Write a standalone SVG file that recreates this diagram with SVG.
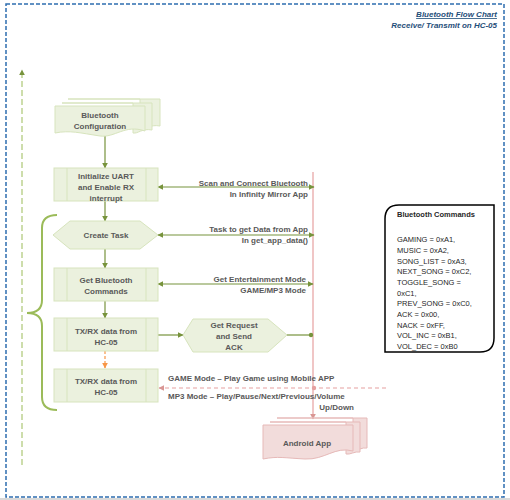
<svg xmlns="http://www.w3.org/2000/svg" width="510" height="500" viewBox="0 0 510 500">
<defs>
<style>
.t{font-family:"Liberation Sans",Arial,sans-serif;font-weight:bold;font-size:8px;fill:#595959}
.c{text-anchor:middle}
.r{text-anchor:end}
.box{fill:#ebf1de;stroke:#d7e4bd;stroke-width:1}
.in{stroke:#d7e4bd;stroke-width:1}
.gl{stroke:#77933c;stroke-width:1.2;fill:none}
.pk{fill:#f2dcdb;stroke:#e6b9b8;stroke-width:1}
.cmd{font-family:"Liberation Sans",Arial,sans-serif;font-size:7.5px;fill:#262626}
</style>
<marker id="ga" viewBox="0 0 10 10" refX="9" refY="5" markerWidth="6" markerHeight="6" markerUnits="userSpaceOnUse" orient="auto-start-reverse"><path d="M0,0 L10,5 L0,10 Z" fill="#77933c"/></marker>
<marker id="ra" viewBox="0 0 10 10" refX="9" refY="5" markerWidth="6" markerHeight="6" markerUnits="userSpaceOnUse" orient="auto"><path d="M0,0 L10,5 L0,10 Z" fill="#d99694"/></marker>
<marker id="oa" viewBox="0 0 10 10" refX="9" refY="5" markerWidth="6" markerHeight="6" markerUnits="userSpaceOnUse" orient="auto"><path d="M0,0 L10,5 L0,10 Z" fill="#f79646"/></marker>
</defs>
<rect x="0" y="0" width="510" height="500" fill="#ffffff"/>
<rect x="0" y="498" width="510" height="2" fill="#d9d9d9"/>
<rect id="frame" x="6" y="4" width="498" height="493" fill="none" stroke="#2e6db0" stroke-width="1.5" stroke-dasharray="4,2"/>
<g id="title">
<text x="497" y="17" class="t r" style="fill:#1f4e79;font-style:italic;text-decoration:underline">Bluetooth Flow Chart</text>
<text x="497" y="28" class="t r" style="fill:#1f4e79;font-style:italic">Receive/ Transmit on HC-05</text>
</g>
<g id="connectors">
<line x1="22" y1="465" x2="22" y2="70" stroke="#9bbb59" stroke-width="1" stroke-dasharray="6,3" marker-end="url(#ga)"/>
<line x1="105" y1="136" x2="105" y2="168" class="gl" marker-end="url(#ga)"/>
<line x1="105" y1="201" x2="105" y2="221" class="gl" marker-end="url(#ga)"/>
<line x1="105" y1="249" x2="105" y2="268" class="gl" marker-end="url(#ga)"/>
<line x1="105" y1="301" x2="105" y2="318" class="gl" marker-end="url(#ga)"/>
<line x1="105" y1="351" x2="105" y2="368" stroke="#f79646" stroke-width="1.2" stroke-dasharray="3,2" marker-end="url(#oa)"/>
<line x1="313" y1="172" x2="313" y2="419" stroke="#e6a0a0" stroke-width="1.2" marker-end="url(#ra)"/>
<line x1="158" y1="187" x2="314" y2="187" class="gl" marker-start="url(#ga)" marker-end="url(#ga)"/>
<line x1="158" y1="235" x2="314" y2="235" class="gl" marker-start="url(#ga)" marker-end="url(#ga)"/>
<line x1="158" y1="284" x2="313" y2="284" class="gl" marker-start="url(#ga)" marker-end="url(#ga)"/>
<line x1="158" y1="335" x2="183" y2="335" class="gl" marker-end="url(#ga)"/>
<line x1="287" y1="335" x2="311" y2="335" class="gl"/>
<circle cx="311" cy="335" r="2.2" fill="#77933c"/>
<line x1="386" y1="388" x2="159" y2="388" stroke="#e6a0a0" stroke-width="1.2" stroke-dasharray="4,3" marker-end="url(#ra)"/>
<circle cx="314" cy="388" r="2.2" fill="#e6a0a0"/>
<path d="M57,215 Q42,215 42,228 V300 Q42,313 27,313 Q42,313 42,326 V397 Q42,410 57,410" fill="none" stroke="#9bbb59" stroke-width="2"/>
<text x="308" y="186" class="t r">Scan and Connect Bluetooth</text>
<text x="308" y="197" class="t r">In Infinity Mirror App</text>
<text x="308" y="232" class="t r">Task to get Data from App</text>
<text x="308" y="243" class="t r">In get_app_data()</text>
<text x="306" y="282" class="t r">Get Entertainment Mode</text>
<text x="306" y="293" class="t r">GAME/MP3  Mode</text>
<text x="168" y="381" class="t">GAME Mode – Play Game using Mobile APP</text>
<text x="168" y="399" class="t">MP3 Mode – Play/Pause/Next/Previous/Volume</text>
<text x="354" y="410" class="t r">Up/Down</text>
</g>
<g id="config">
<path class="box" d="M68,99 H160 V126 C150,124 145,130 140,129 V99 Z"/>
<path class="box" d="M62,103 H152 V130 C142,128 138,134 133,133 V103 Z"/>
<path class="box" d="M55,106 H145 V131 C125,124 115,138 100,136 C80,133 70,130 55,133 Z"/>
<text x="100" y="118" class="t c">Bluetooth</text>
<text x="100" y="129" class="t c">Configuration</text>
</g>
<g id="init">
<rect class="box" x="54" y="168" width="104" height="33"/>
<line class="in" x1="67" y1="168" x2="67" y2="201"/>
<line class="in" x1="146" y1="168" x2="146" y2="201"/>
<text x="106" y="179" class="t c">Initialize UART</text>
<text x="106" y="190" class="t c">and Enable RX</text>
<text x="106" y="201" class="t c">interrupt</text>
</g>
<g id="createTask">
<path class="box" d="M53,235 L70,221 H140 L158,235 L140,249 H70 Z"/>
<text x="106" y="238" class="t c">Create Task</text>
</g>
<g id="getCommands">
<rect class="box" x="54" y="268" width="104" height="33"/>
<line class="in" x1="67" y1="268" x2="67" y2="301"/>
<line class="in" x1="146" y1="268" x2="146" y2="301"/>
<text x="106" y="283" class="t c">Get Bluetooth</text>
<text x="106" y="294" class="t c">Commands</text>
</g>
<g id="txrx1">
<rect class="box" x="54" y="318" width="104" height="33"/>
<line class="in" x1="67" y1="318" x2="67" y2="351"/>
<line class="in" x1="146" y1="318" x2="146" y2="351"/>
<text x="106" y="334" class="t c">TX/RX data from</text>
<text x="106" y="345" class="t c">HC-05</text>
</g>
<g id="getRequest">
<path class="box" d="M183,335 L193,319 H268 L287,335 L268,352 H193 Z"/>
<text x="234" y="328" class="t c">Get Request</text>
<text x="234" y="339" class="t c">and Send</text>
<text x="234" y="350" class="t c">ACK</text>
</g>
<g id="txrx2">
<rect class="box" x="54" y="369" width="104" height="33"/>
<line class="in" x1="67" y1="369" x2="67" y2="402"/>
<line class="in" x1="146" y1="369" x2="146" y2="402"/>
<text x="106" y="384" class="t c">TX/RX data from</text>
<text x="106" y="395" class="t c">HC-05</text>
</g>
<g id="androidApp">
<path class="pk" d="M277,418 H367 V448 C362,447 358,451 353,450 V418 Z"/>
<path class="pk" d="M270,422 H360 V452 C355,451 350,455 346,454 V422 Z"/>
<path class="pk" d="M263,425 H353 V451 C335,446 325,460 305,459 C285,458 278,456 263,459 Z"/>
<text x="307" y="446" class="t c">Android App</text>
</g>
<g id="commands">
<path d="M399,205 H494 V338 Q494,352 480,352 H385 V219 Q385,205 399,205 Z" fill="#ffffff" stroke="#000000" stroke-width="1.5"/>
<text x="397" y="217" class="cmd" style="font-weight:bold">Bluetooth Commands</text>
<text x="397" y="242" class="cmd">GAMING = 0xA1,</text>
<text x="397" y="253" class="cmd">MUSIC = 0xA2,</text>
<text x="397" y="264" class="cmd">SONG_LIST = 0xA3,</text>
<text x="397" y="274" class="cmd">NEXT_SONG = 0xC2,</text>
<text x="397" y="285" class="cmd">TOGGLE_SONG =</text>
<text x="397" y="296" class="cmd">0xC1,</text>
<text x="397" y="306" class="cmd">PREV_SONG = 0xC0,</text>
<text x="397" y="317" class="cmd">ACK = 0x00,</text>
<text x="397" y="328" class="cmd">NACK = 0xFF,</text>
<text x="397" y="338" class="cmd">VOL_INC = 0xB1,</text>
<text x="397" y="349" class="cmd">VOL_DEC = 0xB0</text>
</g>
</svg>
